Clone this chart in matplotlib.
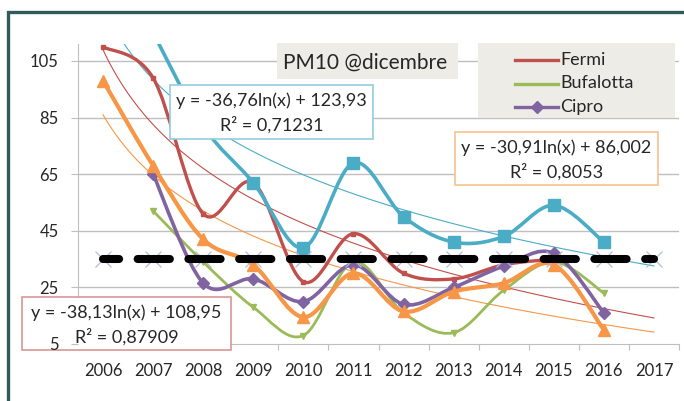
import numpy as np
import matplotlib
matplotlib.use('Agg')
import matplotlib.pyplot as plt
from matplotlib.path import Path
from matplotlib.patches import PathPatch, Rectangle
from matplotlib.lines import Line2D

plt.rcParams['font.family'] = ['Lato', 'DejaVu Sans']

# data (PM10, December averages)
years = ['2006', '2007', '2008', '2009', '2010', '2011',
         '2012', '2013', '2014', '2015', '2016', '2017']
nan = np.nan
fermi = [110, 99, 51, 62, 27, 44, 30, 28, 33, 35, nan, nan]
bufalotta = [nan, 52, 34, 18, 8, 34, 16, 9, 24, 34, 23, nan]
cipro = [nan, 65, 26.5, 28, 20, 33, 19, 25, 32.5, 37, 16, nan]
orange_st = [98, 68, 42, 33, 14.5, 30, 16.5, 23.5, 26.5, 33, 10, nan]
cyan_st = [nan, 115, 82, 62, 39, 69, 50, 41, 43, 54, 41, nan]
limit = [35] * 12

# log trendlines y = a*ln(x) + b, x = 1..12
trend_cyan = (-36.76, 123.93)
trend_orange = (-30.91, 86.002)
trend_red = (-38.13, 108.95)

RED = '#C0504D'
GREEN = '#9BBB59'
PURPLE = '#8064A2'
ORANGE = '#F79646'
CYAN = '#4BACC6'
TXT = '#262626'

W, H = 684, 401
fig = plt.figure(figsize=(W / 100, H / 100), dpi=100)


def fx(px):
    return px / W


def fy(py):
    return 1 - py / H


ax = fig.add_axes([fx(78), fy(344), fx(679) - fx(78), fy(44) - fy(344)])
ax.set_xlim(-0.5, 11.5)
ax.set_ylim(5, 111)


# smoothed line like excel (bezier through the points)
def smooth_path(xv, yv):
    pts = np.array([(x, y) for x, y in zip(xv, yv) if not np.isnan(y)])
    n = len(pts)
    verts = [pts[0]]
    codes = [Path.MOVETO]
    for i in range(n - 1):
        p0 = pts[i - 1] if i > 0 else pts[i]
        p1 = pts[i]
        p2 = pts[i + 1]
        p3 = pts[i + 2] if i + 2 < n else pts[i + 1]
        c1 = p1 + (p2 - p0) / 6
        c2 = p2 - (p3 - p1) / 6
        verts += [c1, c2, p2]
        codes += [Path.CURVE4] * 3
    return Path(verts, codes)


xs = np.arange(len(years))


def draw_series(vals, color, lw, marker, ms, z):
    vals = np.array(vals, dtype=float)
    patch = PathPatch(smooth_path(xs, vals), fill=False, edgecolor=color,
                      lw=lw, zorder=z, capstyle='round', joinstyle='round')
    ax.add_patch(patch)
    if marker:
        ax.plot(xs, vals, ls='none', marker=marker, ms=ms, color=color,
                mec=color, zorder=z + 0.1)


# gridlines
for v in [25, 45, 65, 85, 105]:
    ax.axhline(v, color='#BFBFBF', lw=1, zorder=0.5)

# trendlines
tx = np.linspace(1, 12, 200)
for (a, b), col in [(trend_cyan, CYAN), (trend_orange, ORANGE), (trend_red, RED)]:
    ax.plot(tx - 1, a * np.log(tx) + b, color=col, lw=0.8, zorder=2)

draw_series(fermi, RED, 2.4, 's', 2.5, 3)
draw_series(bufalotta, GREEN, 2.0, 'v', 4, 3.2)
draw_series(cipro, PURPLE, 2.6, 'D', 6, 3.4)
draw_series(orange_st, ORANGE, 3.0, '^', 8, 3.6)
draw_series(cyan_st, CYAN, 2.6, 's', 8, 3.8)

# limit line
ax.plot(xs, limit, ls='none', marker='x', ms=11, mew=0.9, color='#B4BED6', zorder=4)
ax.plot(xs, limit, color='black', lw=5.8, dash_capstyle='round',
        linestyle=(2.0, (4.0, 2.3)), zorder=4.5)

# axes styling
ax.set_yticks([5, 25, 45, 65, 85, 105])
ax.set_xticks(np.arange(-0.5, 12, 1))
ax.set_xticklabels([])
ax.set_xticks(xs, minor=True)
ax.set_xticklabels(years, minor=True)
ax.tick_params(axis='x', which='major', length=4, color='#BFBFBF', direction='out')
ax.tick_params(axis='x', which='minor', length=0, pad=14, labelsize=12, labelcolor=TXT)
ax.tick_params(axis='y', length=5, color='#BFBFBF', pad=9, labelsize=12, labelcolor=TXT)
ax.yaxis.set_zorder(10)
for s in ['top', 'right']:
    ax.spines[s].set_visible(False)
for s in ['left', 'bottom']:
    ax.spines[s].set_color('#BFBFBF')


def box(x0, y0, x1, y1, fc, ec, lw=1.0, z=5):
    r = Rectangle((fx(x0), fy(y1)), fx(x1) - fx(x0), fy(y0) - fy(y1),
                  transform=fig.transFigure, facecolor=fc, edgecolor=ec,
                  lw=lw, zorder=z, clip_on=False)
    ax.add_patch(r)


def label(px, py, s, size, ha='center'):
    ax.text(fx(px), fy(py), s, transform=fig.transFigure, ha=ha, va='center',
            fontsize=size, color=TXT, zorder=6, clip_on=False)


# title
box(277, 43, 458, 79, '#EEECE7', 'none')
label(365, 63, 'PM10 @dicembre', 15)

# legend
box(478, 43, 675, 118, '#EEECE7', 'none')
for i, (lab, col, mk) in enumerate([('Fermi', RED, None), ('Bufalotta', GREEN, None),
                                      ('Cipro', PURPLE, 'D')]):
    yy = 60 + i * 23.5
    ax.add_line(Line2D([fx(515), fx(558)], [fy(yy), fy(yy)], color=col, lw=2.4,
                       transform=fig.transFigure, zorder=6, clip_on=False))
    if mk:
        ax.add_line(Line2D([fx(536.5)], [fy(yy)], marker=mk, ms=6, color=col,
                           transform=fig.transFigure, zorder=6, clip_on=False))
    label(560, yy, lab, 13, ha='left')

# trendline labels
eq_boxes = [
    ((170, 85, 373, 139), '#93CDDD', 'y = -36,76ln(x) + 123,93', 'R² = 0,71231'),
    ((455, 132, 658, 185), '#FAC090', 'y = -30,91ln(x) + 86,002', 'R² = 0,8053'),
    ((22, 297, 231, 350), '#D99694', 'y = -38,13ln(x) + 108,95', 'R² = 0,87909'),
]
for (x0, y0, x1, y1), ec, l1, l2 in eq_boxes:
    box(x0, y0, x1, y1, 'white', ec, lw=1.2)
    cx = (x0 + x1) / 2
    label(cx, y0 + 16, l1, 13)
    label(cx, y0 + 40, l2, 13)

# outer frame
box(8, 12, 700, 420, 'none', '#2F5B5C', lw=2.4, z=11)

fig.savefig('out.png', dpi=100)
